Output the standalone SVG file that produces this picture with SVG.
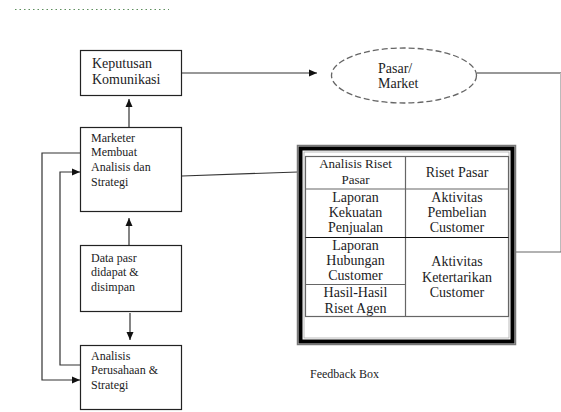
<svg xmlns="http://www.w3.org/2000/svg" width="561" height="412" viewBox="0 0 561 412">
<defs>
<marker id="ah" markerUnits="userSpaceOnUse" markerWidth="9" markerHeight="8" refX="8" refY="4" orient="auto">
<path d="M0,0.5 L8,4 L0,7.5 z" fill="#111"/>
</marker>
<style>
.t{font-family:"Liberation Serif","Times New Roman",serif;fill:#1c1c24;font-size:12px}
.t14{font-size:14px}
.t13{font-size:13px}
.c{text-anchor:middle}
.box{fill:#fff;stroke:#222;stroke-width:1.2}
.ln{fill:none;stroke:#333;stroke-width:1.2}
.cell{stroke:#666;stroke-width:1.2;fill:none}
</style>
</defs>
<rect width="561" height="412" fill="#fff"/>
<line x1="15" y1="9.5" x2="169" y2="9.5" stroke="#5f8f5f" stroke-width="1.2" stroke-dasharray="1.5,3"/>

<g id="connectors">
<line class="ln" x1="182" y1="73" x2="317" y2="73" marker-end="url(#ah)"/>
<line class="ln" x1="129" y1="127" x2="129" y2="99" marker-end="url(#ah)"/>
<line class="ln" x1="129" y1="245" x2="129" y2="218" marker-end="url(#ah)"/>
<line class="ln" x1="130" y1="313" x2="130" y2="340" marker-end="url(#ah)"/>
<path class="ln" d="M80,153 H42 V380 H80" marker-end="url(#ah)"/>
<path class="ln" d="M80,365 H60 V172 H80" marker-end="url(#ah)"/>
<line class="ln" x1="182" y1="176" x2="298" y2="172"/>
<line class="ln" x1="477" y1="73" x2="561" y2="73" stroke="#111"/>
<line x1="560.5" y1="73" x2="560.5" y2="252" stroke="#bbb" stroke-width="1"/>
<line x1="516" y1="252" x2="561" y2="252" stroke="#666" stroke-width="1.2"/>
</g>

<g id="keputusan">
<rect class="box" x="80.5" y="50.5" width="101" height="45"/>
<text class="t t14" x="92" y="68">Keputusan</text>
<text class="t t14" x="92" y="84">Komunikasi</text>
</g>

<g id="pasar">
<ellipse cx="404" cy="75.5" rx="72.5" ry="27.5" fill="#fff" stroke="#666" stroke-width="1.3" stroke-dasharray="6,3"/>
<text class="t t14" x="378" y="73">Pasar/</text>
<text class="t t14" x="378" y="88">Market</text>
</g>

<g id="marketer">
<rect class="box" x="80.5" y="127.5" width="101" height="84"/>
<text class="t" x="91" y="142">Marketer</text>
<text class="t" x="91" y="156">Membuat</text>
<text class="t" x="91" y="171">Analisis dan</text>
<text class="t" x="91" y="186">Strategi</text>
</g>

<g id="data">
<rect class="box" x="80.5" y="245.5" width="101" height="66"/>
<text class="t" x="91" y="262">Data pasr</text>
<text class="t" x="91" y="276">didapat &amp;</text>
<text class="t" x="91" y="291">disimpan</text>
</g>

<g id="analisis">
<rect class="box" x="80.5" y="345.5" width="101" height="64"/>
<text class="t" x="91" y="360">Analisis</text>
<text class="t" x="91" y="374">Perusahaan &amp;</text>
<text class="t" x="91" y="389">Strategi</text>
</g>

<g id="feedback-box">
<rect x="297.5" y="145.5" width="218" height="199" fill="#fff" stroke="#777" stroke-width="1.5"/>
<rect x="300.5" y="148.5" width="212" height="193" fill="none" stroke="#000" stroke-width="4"/>
<rect x="304" y="152" width="205" height="186" fill="none" stroke="#aaa" stroke-width="0.8"/>
<rect class="cell" x="305.5" y="156.5" width="203" height="160"/>
<line class="cell" x1="405.5" y1="156.5" x2="405.5" y2="316.5"/>
<line class="cell" x1="305.5" y1="189" x2="508.5" y2="189"/>
<line x1="305.5" y1="237.5" x2="508.5" y2="237.5" stroke="#111" stroke-width="1.2"/>
<line class="cell" x1="305.5" y1="284.5" x2="405.5" y2="284.5"/>
<text class="t t13 c" x="355.5" y="168">Analisis Riset</text>
<text class="t t13 c" x="355.5" y="184">Pasar</text>
<text class="t t14 c" x="457" y="177">Riset Pasar</text>
<text class="t t14 c" x="355.5" y="202">Laporan</text>
<text class="t t14 c" x="355.5" y="217">Kekuatan</text>
<text class="t t14 c" x="355.5" y="232">Penjualan</text>
<text class="t t14 c" x="457" y="202">Aktivitas</text>
<text class="t t14 c" x="457" y="217">Pembelian</text>
<text class="t t14 c" x="457" y="232">Customer</text>
<text class="t t14 c" x="355.5" y="250">Laporan</text>
<text class="t t14 c" x="355.5" y="265">Hubungan</text>
<text class="t t14 c" x="355.5" y="280">Customer</text>
<text class="t t14 c" x="355.5" y="297">Hasil-Hasil</text>
<text class="t t14 c" x="355.5" y="313">Riset Agen</text>
<text class="t t14 c" x="457" y="266">Aktivitas</text>
<text class="t t14 c" x="457" y="282">Ketertarikan</text>
<text class="t t14 c" x="457" y="297">Customer</text>
</g>

<g id="feedback-label">
<text class="t" x="310" y="378">Feedback Box</text>
</g>
</svg>
